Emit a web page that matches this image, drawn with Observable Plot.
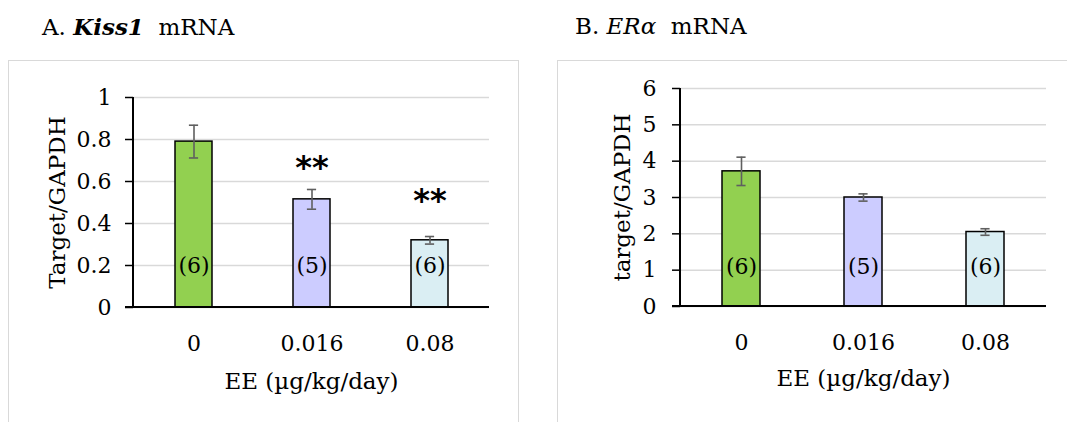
<!DOCTYPE html>
<html><head><meta charset="utf-8">
<script src="https://cdn.jsdelivr.net/npm/d3@7"></script>
<script src="https://cdn.jsdelivr.net/npm/@observablehq/plot@0.6"></script>
<style>
body{margin:0;background:#fff;width:1067px;height:422px;overflow:hidden;position:relative;font-family:"DejaVu Serif",serif;color:#000}
.title{position:absolute;top:15px;font-size:23px;line-height:23px;white-space:pre}
.panel{position:absolute;top:60px;border:1px solid #d9d9d9;border-bottom:none;background:#fff;overflow:hidden;height:362px}
.panel svg{display:block}
</style></head><body>
<div class="title" style="left:42px">A. <b><i>Kiss1</i></b>  mRNA</div>
<div class="title" style="left:575px">B. <i>ERα</i>  mRNA</div>
<div class="panel" id="pa" style="left:8px;width:509px"></div>
<div class="panel" id="pb" style="left:557px;width:520px"></div>
<script>
// ---- data ----
const doses = ["0", "0.016", "0.08"];
const nLabels = ["(6)", "(5)", "(6)"];
const barColors = ["#92d050", "#ccccff", "#daeef3"];
const kissMean = [0.79, 0.515, 0.32];
const kissSE = [0.078, 0.047, 0.018];
const kissSig = ["", "**", "**"];
const kissSigY = [null, 0.68, 0.525];
const eraMean = [3.72, 3.0, 2.05];
const eraSE = [0.39, 0.1, 0.09];
const yTicksA = [0, 0.2, 0.4, 0.6, 0.8, 1];
const yTicksB = [0, 1, 2, 3, 4, 5, 6];
const xTitle = "EE (µg/kg/day)";
const yTitleA = "Target/GAPDH";
const yTitleB = "target/GAPDH";

const FONT = "DejaVu Serif";
const FS = 22;

function axisLines() {
  return (index, scales, values, dims) => {
    const g = d3.create("svg:g");
    const x0 = dims.marginLeft, y0 = scales.y(0);
    g.append("line").attr("x1", x0).attr("x2", x0).attr("y1", dims.marginTop).attr("y2", y0)
      .attr("stroke", "#000").attr("stroke-width", 2);
    g.append("line").attr("x1", x0 - 8).attr("x2", dims.width - dims.marginRight).attr("y1", y0).attr("y2", y0)
      .attr("stroke", "#000").attr("stroke-width", 2.2);
    return g.node();
  };
}

function panel({means, ses, sig, sigY, yDomain, yTicks, yTitle, nY, width, height, mL, mR, mT, mB, yTitleDx, xTitleDy, yPad}) {
  const rows = doses.map((d, i) => ({
    dose: d, mean: means[i], lo: means[i] - ses[i], hi: means[i] + ses[i],
    n: nLabels[i], color: barColors[i], sig: sig ? sig[i] : "", sigY: sigY ? sigY[i] : null
  }));
  const plotW = width - mL - mR;
  const bw = plotW / 3 * 0.31;
  const capInset = (bw - 9) / 2;
  return Plot.plot({
    width, height, marginLeft: mL, marginRight: mR, marginTop: mT, marginBottom: mB,
    style: {fontFamily: FONT, fontSize: FS + "px", color: "#000", background: "#fff", overflow: "visible"},
    x: {domain: doses, paddingInner: 0.69, paddingOuter: 0.345, label: null},
    y: {domain: yDomain, label: null},
    marks: [
      Plot.gridY(yTicks, {stroke: "#d9d9d9", strokeOpacity: 1, strokeWidth: 1.5}),
      Plot.barY(rows, {x: "dose", y: "mean", fill: "color", stroke: "#000", strokeWidth: 1.5}),
      Plot.ruleX(rows, {x: "dose", y1: "lo", y2: "hi", stroke: "#5f5f5f", strokeWidth: 1.6}),
      Plot.tickY(rows, {x: "dose", y: "lo", stroke: "#5f5f5f", strokeWidth: 1.6, insetLeft: capInset, insetRight: capInset}),
      Plot.tickY(rows, {x: "dose", y: "hi", stroke: "#5f5f5f", strokeWidth: 1.6, insetLeft: capInset, insetRight: capInset}),
      Plot.text(rows, {x: "dose", y: () => nY, text: "n", fontSize: FS}),
      Plot.text(rows.filter(r => r.sig), {x: "dose", y: "sigY", text: "sig", fontSize: 32, fontWeight: "bold", fontFamily: "DejaVu Sans", dy: 3}),
      Plot.axisY({ticks: yTicks, tickFormat: d => String(d), tickSize: 8, tickPadding: yPad, stroke: "#000", strokeWidth: 1.5, label: null, fontSize: FS}),
      Plot.axisX({tickSize: 0, tickPadding: 28, label: null, fontSize: FS}),
      axisLines(),
      Plot.text([yTitle], {frameAnchor: "left", textAnchor: "middle", lineAnchor: "middle", rotate: -90, dx: yTitleDx, fontSize: 23}),
      Plot.text([xTitle], {frameAnchor: "bottom", textAnchor: "middle", lineAnchor: "middle", dy: xTitleDy, fontSize: 23})
    ]
  });
}

document.getElementById("pa").append(panel({
  means: kissMean, ses: kissSE, sig: kissSig, sigY: kissSigY,
  yDomain: [0, 1], yTicks: yTicksA, yTitle: yTitleA, nY: 0.2,
  width: 509, height: 361, mL: 124, mR: 29, mT: 36, mB: 115, yTitleDx: -76, xTitleDy: 74, yPad: 14
}));
document.getElementById("pb").append(panel({
  means: eraMean, ses: eraSE, sig: null, sigY: null,
  yDomain: [0, 6], yTicks: yTicksB, yTitle: yTitleB, nY: 1.1,
  width: 509, height: 361, mL: 122, mR: 21, mT: 27, mB: 116, yTitleDx: -58, xTitleDy: 72, yPad: 16
}));
</script>
</body></html>
